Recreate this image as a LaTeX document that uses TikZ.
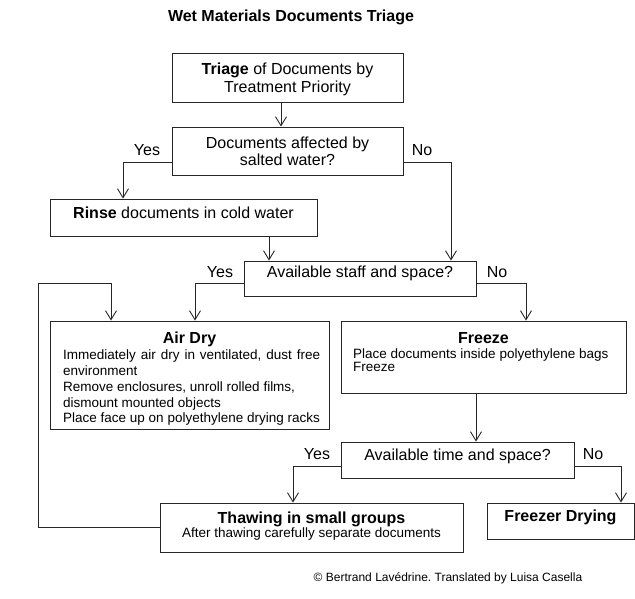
\documentclass[tikz,border=0pt]{standalone}
\usepackage{fontspec}
\setmainfont{Liberation Sans}
\usetikzlibrary{arrows.meta,calc}
\newcommand\boxtxt[2]{\parbox[t]{#1}{#2}}
\frenchspacing
\begin{document}
\begin{tikzpicture}[x=1pt,y=-1pt,
  bx/.style={draw=black!85, line width=0.9pt, inner sep=0pt},
  ln/.style={draw=black!85, line width=0.9pt},
  arr/.style={ln, -{Straight Barb[length=9pt,width=11pt,line width=0.9pt]}},
  big/.style={anchor=base, inner sep=0pt, font=\fontsize{16}{18}\selectfont},
  small/.style={anchor=base west, inner sep=0pt, font=\fontsize{13.5}{15.75}\selectfont},
  lbl/.style={anchor=base, inner sep=0pt, font=\fontsize{16}{18}\selectfont}
]
\useasboundingbox (0,0) rectangle (635,599);

% title
\node[big, font=\fontsize{16}{18}\selectfont\bfseries] (title) at (291,21.7) {Wet Materials Documents Triage};

% boxes
\node[bx, minimum width=231pt, minimum height=49pt] (b1) at (287.5,77.5) {};
\node[bx, minimum width=231pt, minimum height=48pt] (b2) at (287.5,151) {};
\node[bx, minimum width=267pt, minimum height=37pt] (rinse) at (183.5,217.5) {};
\node[bx, minimum width=232pt, minimum height=35pt] (staff) at (360,278.5) {};
\node[bx, minimum width=279pt, minimum height=108pt] (air) at (189.5,375) {};
\node[bx, minimum width=285pt, minimum height=72pt] (freeze) at (483.5,357) {};
\node[bx, minimum width=233pt, minimum height=36pt] (time) at (457.5,460) {};
\node[bx, minimum width=303pt, minimum height=49pt] (thaw) at (311.5,527.5) {};
\node[bx, minimum width=147pt, minimum height=36pt] (fdry) at (560.5,521) {};

% box texts
\node[big] (b1t) at (287.5,74.5) {\boxtxt{231pt}{\centering\textbf{Triage} of Documents by\\Treatment Priority}};
\node[big] (b2t) at (287.5,148.5) {\boxtxt{231pt}{\centering\fontsize{16}{17}\selectfont Documents affected by\\salted water?}};
\node[big] (rinset) at (183.5,218.5) {\textbf{Rinse} documents in cold water};
\node[big] (stafft) at (360,277.5) {Available staff and space?};
\node[big, font=\fontsize{16}{18}\selectfont\bfseries] (airh) at (189.5,343) {Air Dry};
\node[small] (airb) at (63,359.8) {\boxtxt{262pt}{\raggedright\makebox[257pt][s]{Immediately air dry in ventilated, dust free}\\environment\\Remove enclosures, unroll rolled films,\\dismount mounted objects\\Place face up on polyethylene drying racks}};
\node[big, font=\fontsize{16}{18}\selectfont\bfseries] (freezeh) at (483.5,343) {Freeze};
\node[small, font=\fontsize{13.5}{13}\selectfont] (freezeb) at (353,358.8) {\boxtxt{265pt}{\raggedright\fontsize{13.5}{13}\selectfont Place documents inside polyethylene bags\\Freeze}};
\node[big] (timet) at (457.5,460.5) {Available time and space?};
\node[big, font=\fontsize{16}{18}\selectfont\bfseries] (thawh) at (311.5,523.7) {Thawing in small groups};
\node[big, font=\fontsize{13.5}{15}\selectfont] (thawb) at (311.5,537.8) {After thawing carefully separate documents};
\node[big, font=\fontsize{16}{18}\selectfont\bfseries] (fdryt) at (560.5,521.7) {Freezer Drying};

% labels
\node[lbl] (y1) at (147,155.5) {Yes};
\node[lbl] (n1) at (422,155.5) {No};
\node[lbl] (y2) at (220,277.5) {Yes};
\node[lbl] (n2) at (497,277.5) {No};
\node[lbl] (y3) at (317,459.5) {Yes};
\node[lbl] (n3) at (593,459.5) {No};

% connectors
\draw[arr] ([xshift=-6.5pt]b1.south) -- ([xshift=-6.5pt]b2.north);
\draw[arr] ([yshift=-11pt]b2.west) -| ([xshift=-60.5pt]rinse.north);
\draw[arr] ([yshift=-11pt]b2.east) -| ([xshift=91pt]staff.north);
\draw[arr] ([xshift=85.5pt]rinse.south) -- ([xshift=-91pt]staff.north);
\draw[arr] ([yshift=-4.5pt]staff.west) -| ([xshift=5.5pt]air.north);
\draw[arr] ([yshift=-4.5pt]staff.east) -| ([xshift=42.5pt]freeze.north);
\draw[arr] ([xshift=-7.5pt]freeze.south) -- ([xshift=18.5pt]time.north);
\draw[arr] ([yshift=-6pt]time.west) -| ([xshift=-18.5pt]thaw.north);
\draw[arr] ([yshift=-6pt]time.east) -| ([xshift=60.5pt]fdry.north);
\coordinate (fb) at (38,283.5);
\draw[arr] (thaw.west) -| (fb) -| ([xshift=-78.5pt]air.north);

% copyright
\node[big, font=\fontsize{12}{14}\selectfont] (copy) at (448,581.3) {© Bertrand Lavédrine. Translated by Luisa Casella};
\end{tikzpicture}
\end{document}
